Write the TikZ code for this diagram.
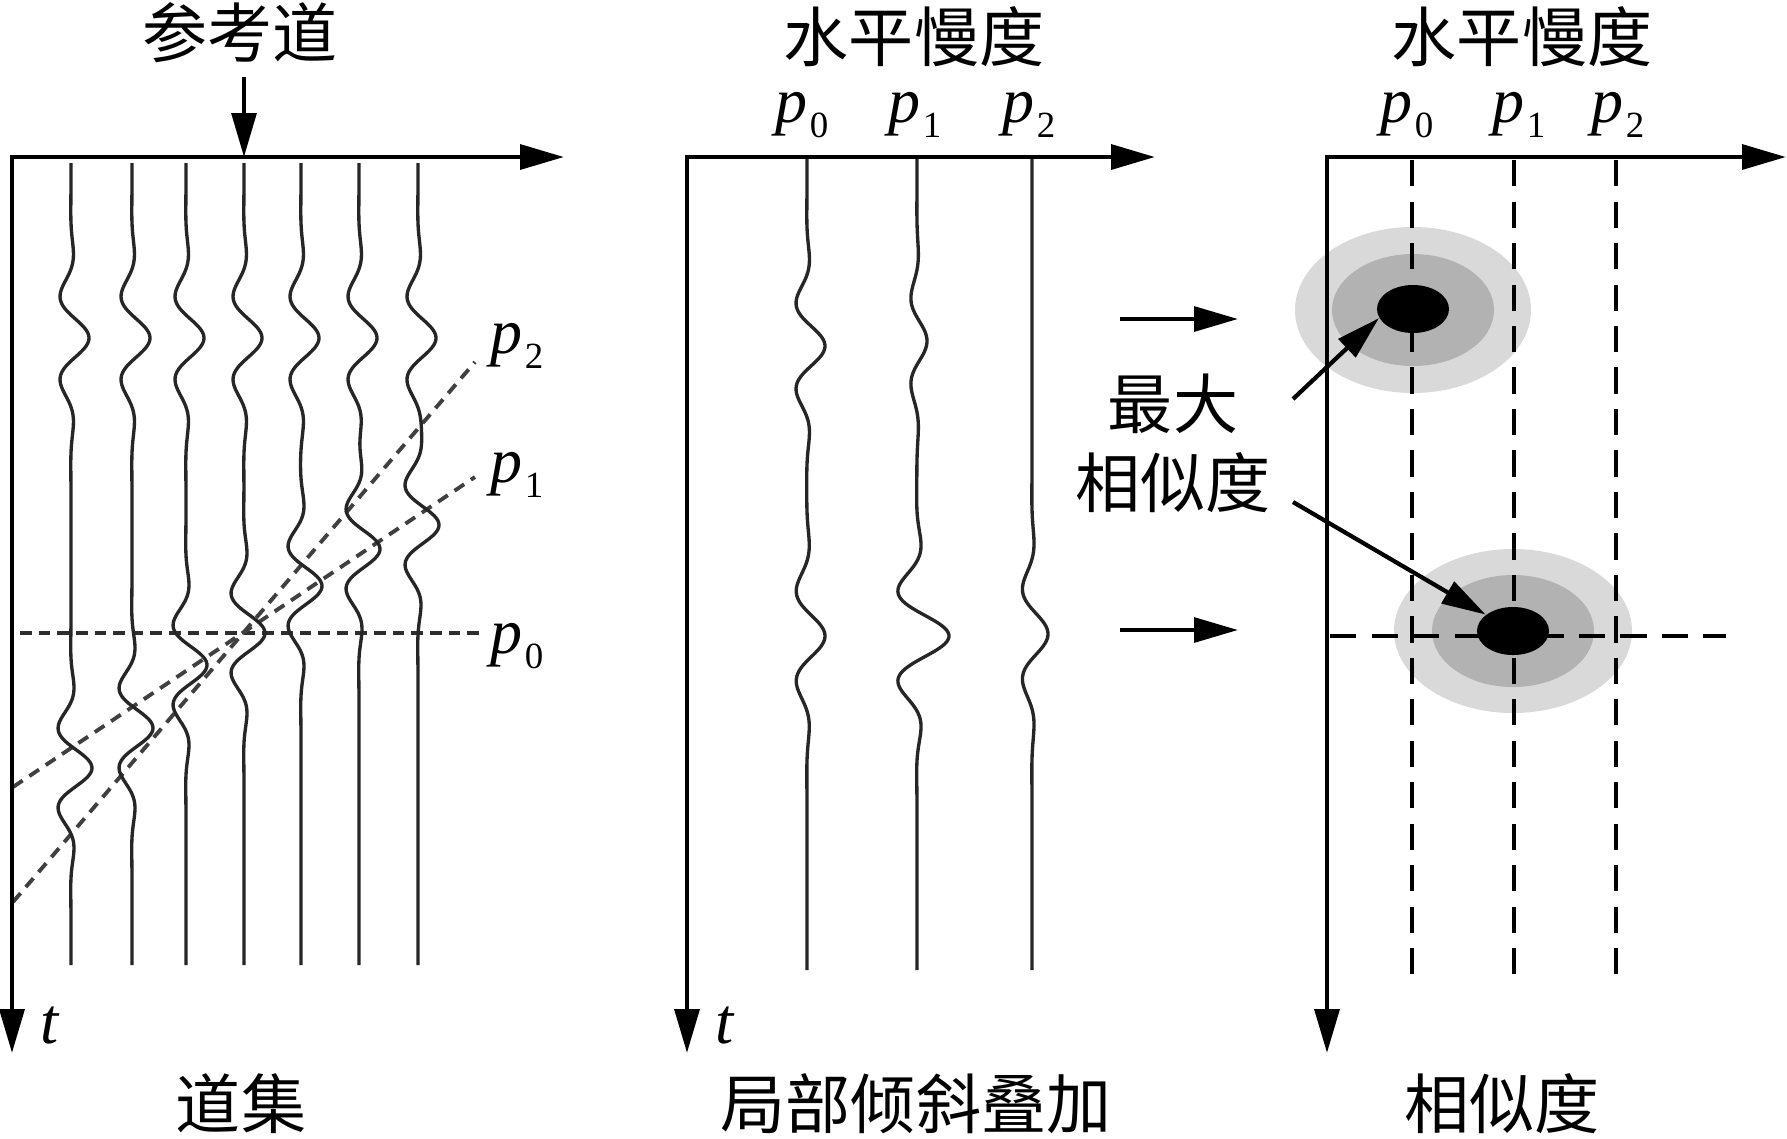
\documentclass[tikz,border=0pt]{standalone}
\usepackage{fontspec}
\setmainfont{Liberation Serif}
\newfontfamily\cjk{Noto Sans CJK SC}
\usetikzlibrary{arrows.meta,shapes.geometric}
\newcommand\plbl[1]{\textit{p}\kern0.6pt\raisebox{-4.4pt}{\fontsize{10.5pt}{11pt}\selectfont #1}}
\begin{document}
\begin{tikzpicture}[x=0.01cm,y=-0.01cm,
  declare function={wv(\t,\l,\s)=cos((\t/\l)*360)*exp(-min((\t/\s)*(\t/\s),9));},
  cjktxt/.style={font=\fontsize{18.5pt}{22.5pt}\selectfont\cjk, inner sep=0pt},
  plab/.style={font=\fontsize{18.2pt}{20pt}\selectfont, anchor=base west, inner sep=0pt},
  tlab/.style={font=\fontsize{18.5pt}{20pt}\selectfont\itshape, anchor=base west, inner sep=0pt},
  axis/.style={line width=1.3pt, arrows={Triangle[length=12.5pt,width=7pt]-Triangle[length=12.5pt,width=7pt]}},
  ptr/.style={line width=1.2pt, arrows={-Triangle[length=12.5pt,width=7pt]}},
  trace/.style={draw=black!85, line width=0.95pt},
  pzero/.style={draw=black!82, line width=1.4pt, dash pattern=on 3.3pt off 2pt},
  pdip/.style={draw=black!75, line width=1.1pt, dash pattern=on 3.3pt off 2.3pt},
  dline/.style={line width=1.25pt, dash pattern=on 7.4pt off 4.4pt},
  blob/.style={ellipse, fill=black, inner sep=0pt, minimum width=0.72cm, minimum height=0.48cm},
]
\useasboundingbox (0,0) rectangle (1787,1138);
\fill[white] (0,0) rectangle (1787,1138);

% ---------------- panel 1: gather ----------------
\node[cjktxt] (refl) at (240,33) {参考道};
\coordinate (refs) at (244,77);
\coordinate (refe) at (244,157);
\draw[ptr] (refs) -- (refe);

\draw[pzero] (20,633) -- (482,633);
\draw[pdip] (13,787) -- (475,477);
\draw[pdip] (13,902) -- (475,362);

\foreach \xx/\cc in {71/768, 132/728, 186/665, 244/633, 301/586, 359/549, 418/525} {
  \draw[trace] plot[variable=\y, domain=163:965, samples=360, smooth]
    ({\xx + 18*wv(\y-338,92,62) + 21*wv(\y-\cc,88,60)}, \y);
}

\draw[axis] (564,157) -- (12,157) -- (12,1053);
\node[plab] (lp2) at (490,353) {\plbl{2}};
\node[plab] (lp1) at (490,482) {\plbl{1}};
\node[plab] (lp0) at (490,653) {\plbl{0}};
\node[tlab] (t1) at (40,1043) {t};
\node[cjktxt] (gather) at (241,1104) {道集};

% ---------------- panel 2: local slant stack ----------------
\node[cjktxt] (title2) at (914,37) {水平慢度};
\node[plab] (mp0) at (775,122) {\plbl{0}};
\node[plab] (mp1) at (888,122) {\plbl{1}};
\node[plab] (mp2) at (1002,122) {\plbl{2}};
\draw[trace] plot[variable=\y, domain=157:970, samples=360, smooth]
  ({807 + 18*wv(\y-346,95,64) + 18*wv(\y-636,100,66)}, \y);
\draw[trace] plot[variable=\y, domain=157:970, samples=360, smooth]
  ({917 + 10*wv(\y-341,95,64) + 32*wv(\y-636,100,66)}, \y);
\draw[trace] plot[variable=\y, domain=157:970, samples=360, smooth]
  ({1032 + 16*wv(\y-634,100,66)}, \y);
\draw[axis] (1155,157) -- (687,157) -- (687,1053);
\node[tlab] (t2) at (715,1043) {t};
\node[cjktxt] (stack) at (916,1104) {局部倾斜叠加};

% arrows between panels
\coordinate (a1s) at (1120,319);
\coordinate (a1e) at (1238,319);
\coordinate (a2s) at (1120,630);
\coordinate (a2e) at (1238,630);
\draw[ptr] (a1s) -- (a1e);
\draw[ptr] (a2s) -- (a2e);

% ---------------- panel 3: semblance ----------------
\node[cjktxt] (title3) at (1522,37) {水平慢度};
\node[plab] (rp0) at (1380,122) {\plbl{0}};
\node[plab] (rp1) at (1492,122) {\plbl{1}};
\node[plab] (rp2) at (1591,122) {\plbl{2}};

\fill[black!15] (1413,310) ellipse [x radius=118, y radius=83];
\fill[black!30] (1413,310) ellipse [x radius=81, y radius=56];
\fill[black!15] (1513,631) ellipse [x radius=119, y radius=82];
\fill[black!30] (1513,631) ellipse [x radius=81, y radius=56];

\draw[dline] (1412,160) -- (1412,975);
\draw[dline] (1514,160) -- (1514,975);
\draw[dline] (1616,160) -- (1616,975);
\draw[dline] (1330,636) -- (1726,636);

\node[blob] (blk1) at (1413,309) {};
\node[blob] (blk2) at (1513,631) {};

\draw[axis] (1786,157) -- (1327,157) -- (1327,1053);

\node[cjktxt, align=center] (maxl) at (1173,443) {最大\\相似度};
\coordinate (sA) at (1293,399);
\coordinate (sB) at (1293,502);
\draw[ptr] (sA) -- (blk1.195);
\draw[ptr] (sB) -- (blk2.149);

\node[cjktxt] (semb) at (1502,1104) {相似度};
\end{tikzpicture}
\end{document}
